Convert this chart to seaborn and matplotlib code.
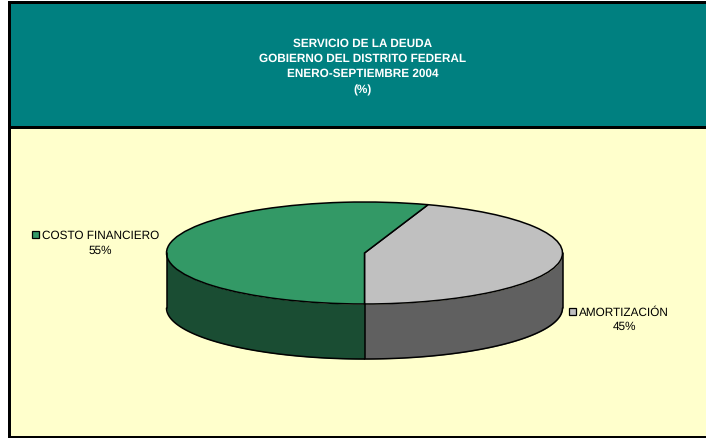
import numpy as np
import pandas as pd
import matplotlib
matplotlib.use("Agg")
import matplotlib.pyplot as plt
from matplotlib.patches import Rectangle
import seaborn as sns

# datos
categorias = ["COSTO FINANCIERO", "AMORTIZACIÓN"]
valores = [55.2, 44.8]
etiquetas = ["55%", "45%"]
titulo = ["SERVICIO DE LA DEUDA", "GOBIERNO DEL DISTRITO FEDERAL", "ENERO-SEPTIEMBRE 2004", "(%)"]

df = pd.DataFrame({"categoria": categorias, "valor": valores, "etiqueta": etiquetas})

sns.set_theme(style="white")
plt.rcParams["font.family"] = ["Liberation Sans", "DejaVu Sans"]
plt.rcParams["text.hinting"] = "no_hinting"

colores = sns.color_palette(["#339966", "#C0C0C0"])
lados = sns.color_palette(["#1A4D33", "#606060"])
W, H = 706, 439
fig = plt.figure(figsize=(W / 100, H / 100), dpi=100, facecolor="white")

# marco y banda, en pixeles
fondo = fig.add_axes([0, 0, 1, 1])
fondo.set_xlim(0, W)
fondo.set_ylim(H, 0)
fondo.axis("off")
fondo.add_patch(Rectangle((8, 2), 698, 437, fc="black", ec="none"))
fondo.add_patch(Rectangle((11, 5), 695, 122, fc="#008080", ec="none"))
fondo.add_patch(Rectangle((11, 130), 695, 307, fc="#FFFFCC", ec="none"))

for linea, y in zip(titulo, [44, 59, 74, 90]):
    fondo.text(363, y, linea, color="white", fontsize=8.45, fontweight="bold", ha="center", va="center")

# pastel: elipse de 198x51 px con 55 px de grosor
cx, cy, rx, ry, prof = 364.5, 254, 198, 51, 55
ax = fig.add_axes([(cx - rx) / W, 1 - (cy + ry + prof) / H, 2 * rx / W, (2 * ry + prof) / H])
ax.patch.set_alpha(0)
ax.axis("off")
grosor = prof / ry

# lados visibles, del frente (180 a 360 grados)
inicio = 270
frontera = {0: (180, inicio), 1: (inicio, 360)}
for i in df.index:
    a, b = frontera[i]
    t = np.radians(np.linspace(a, b, 100))
    ax.fill_between(np.cos(t), np.sin(t), np.sin(t) - grosor, color=lados[i], lw=0)
    ax.plot(np.cos(t), np.sin(t) - grosor, color="black", lw=1.1, clip_on=False)
for x in [-1, 1]:
    ax.plot([x, x], [0, -grosor], color="black", lw=1.1, clip_on=False)
ax.plot([0, 0], [-1, -1 - grosor], color="black", lw=1.1)

# el gris sale del frente y gira en sentido antihorario
ax.pie(df["valor"][::-1], colors=colores[::-1], startangle=inicio, counterclock=True,
       wedgeprops={"edgecolor": "black", "linewidth": 1.1, "clip_on": False}, radius=1, center=(0, 0))
ax.set_aspect("auto")
ax.set_xlim(-1, 1)
ax.set_ylim(-1 - grosor, 1)

# etiquetas con su cuadro
pos_cuadro = [(31.5, 231.5), (568.5, 308.5)]
pos_texto = [(42, 236), (579, 313)]
pos_valor = [(100.5, 251), (624, 327)]
for i, fila in df.iterrows():
    fondo.add_patch(Rectangle(pos_cuadro[i], 7.5, 7.5, fc=colores[i], ec="black", lw=0.9))
    fondo.text(*pos_texto[i], fila["categoria"], fontsize=8.5, color="black", ha="left", va="center")
    fondo.text(*pos_valor[i], fila["etiqueta"], fontsize=8.5, color="black", ha="center", va="center")

fig.savefig("out.png", dpi=100, facecolor="white")
plt.close(fig)
